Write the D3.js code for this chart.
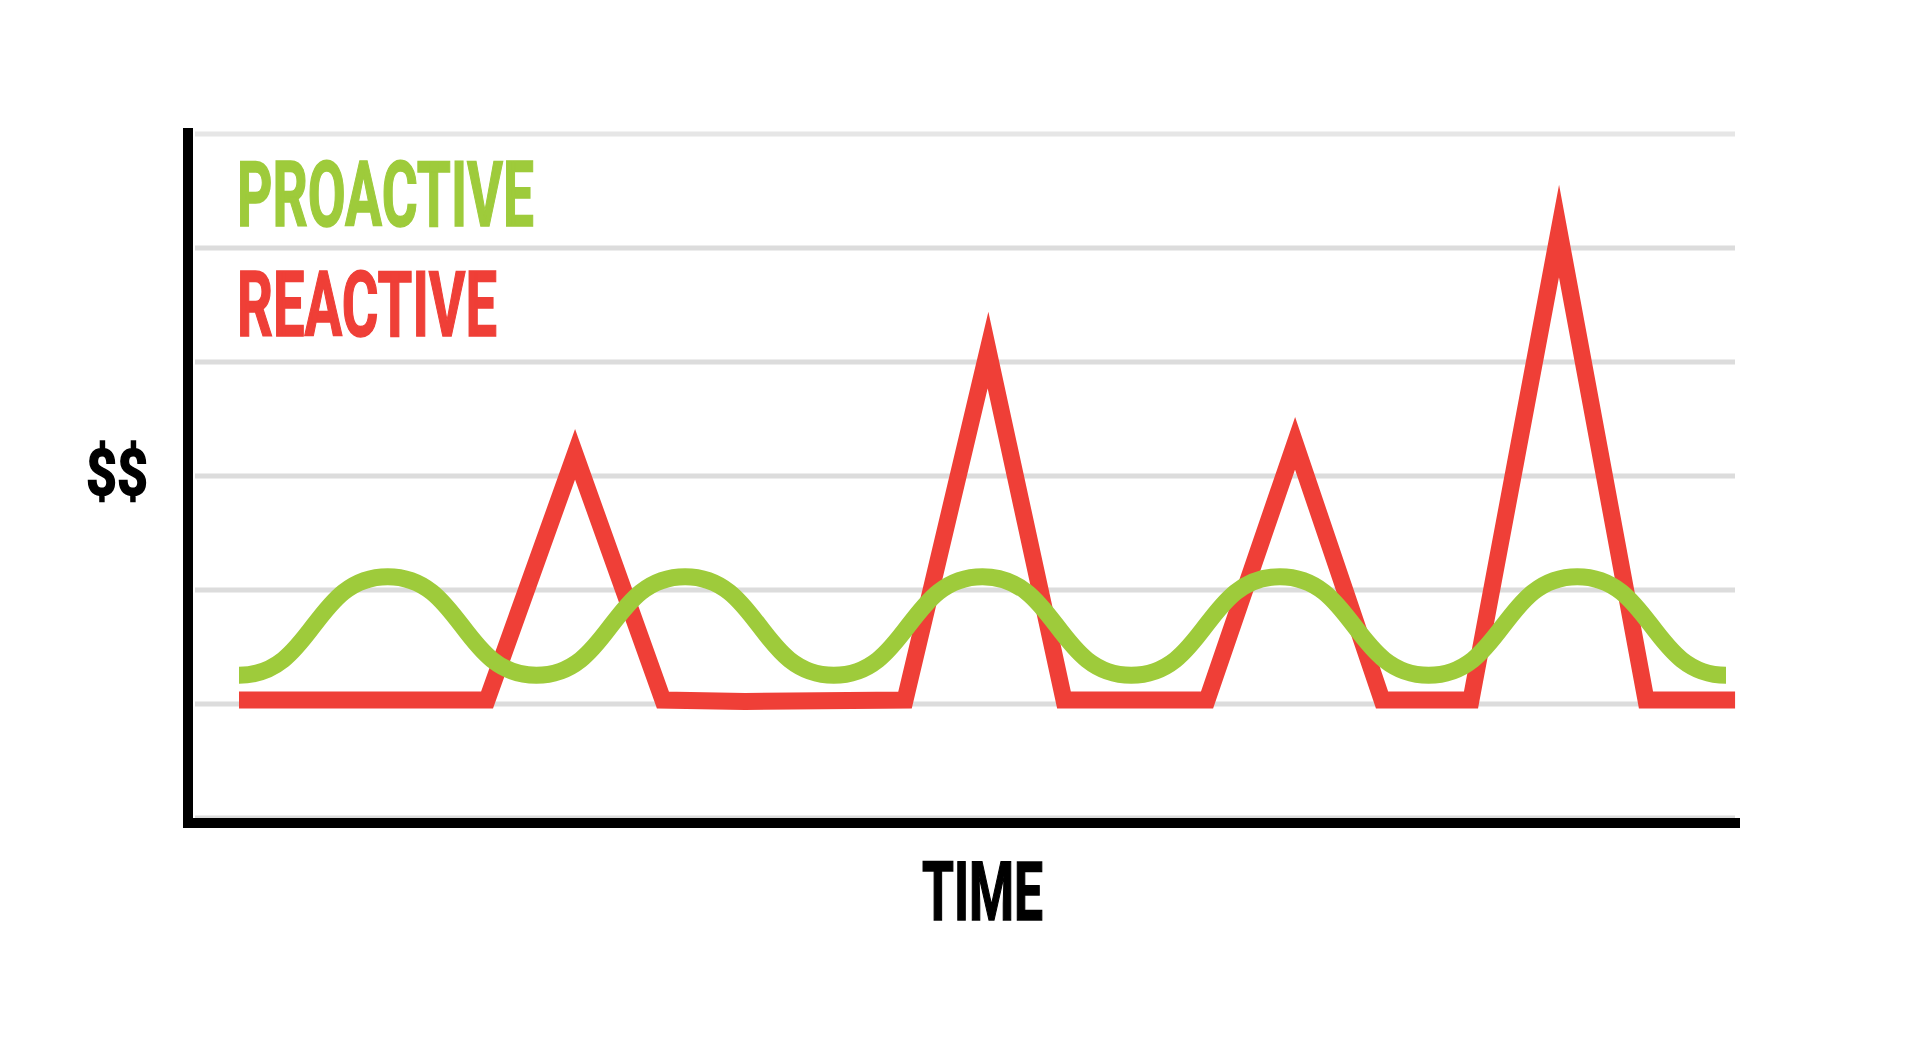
<!DOCTYPE html>
<html>
<head>
<meta charset="utf-8">
<script src="https://cdn.jsdelivr.net/npm/d3@7"></script>
<style>
  html, body { margin: 0; padding: 0; background: #fff; }
  svg { display: block; }
  text { font-family: Roboto, "Noto Sans", sans-serif; font-weight: 700; stroke-width: 1.6px; stroke-linejoin: miter; }
</style>
</head>
<body>
<svg id="chart" width="1920" height="1061"></svg>
<script>
// cost levels for the horizontal grid
const gridLevels = [0, 1, 2, 3, 4, 5, 6]

// reactive spending: flat, then spikes
const reactiveTime = [0, 16.68, 22.6, 28.51, 34.03, 44.79, 50.37, 55.48, 65.1, 71.02, 76.87, 82.85, 88.77, 94.62, 100.61]
const reactiveCost = [1.035, 1.035, 3.19, 1.035, 1.022, 1.035, 4.105, 1.035, 1.035, 3.287, 1.035, 1.035, 5.149, 1.035, 1.035]

// proactive spending: gentle regular waves
const proactiveTime = [0, 10, 20, 30, 40, 50, 60, 70, 80, 90, 100]
const proactiveCost = [1.252, 2.117, 1.252, 2.117, 1.252, 2.117, 1.252, 2.117, 1.252, 2.117, 1.252]

const legendLabels = ['PROACTIVE', 'REACTIVE']
const yLabel = '$$'
const xLabel = 'TIME'

const green = '#9ecb3b',
    red = '#ef3f37'

const svg = d3.select('#chart')

const x = d3.scaleLinear().domain([0, 100]).range([239, 1726])
const y = d3.scaleLinear().domain([0, 6]).range([818, 134])

// grid
svg.append('g')
    .selectAll('line')
    .data(gridLevels)
    .enter()
        .append('line')
        .attr('x1', 195)
        .attr('x2', 1735)
        .attr('y1', d => y(d))
        .attr('y2', d => y(d))
        .attr('stroke', d => d == 6 ? '#e6e6e6' : '#dcdcdc')
        .attr('stroke-width', 5)

// axes
svg.append('path')
    .attr('d', `M188,128 V${y(0) + 5} H1740`)
    .attr('fill', 'none')
    .attr('stroke', '#000')
    .attr('stroke-width', 10)
    .attr('stroke-linejoin', 'miter')

const line = d3.line()
    .x(d => x(d[0]))
    .y(d => y(d[1]))

// reactive
svg.append('path')
    .datum(d3.zip(reactiveTime, reactiveCost))
    .attr('d', line.curve(d3.curveLinear))
    .attr('fill', 'none')
    .attr('stroke', red)
    .attr('stroke-width', 17)
    .attr('stroke-linejoin', 'miter')
    .attr('stroke-miterlimit', 20)

// proactive
svg.append('path')
    .datum(d3.zip(proactiveTime, proactiveCost))
    .attr('d', line.curve(d3.curveBumpX))
    .attr('fill', 'none')
    .attr('stroke', green)
    .attr('stroke-width', 17)

// legend
const legend = [
    {label: legendLabels[0], color: green, y: 225.5, len: 297},
    {label: legendLabels[1], color: red, y: 335.5, len: 260}
]
svg.selectAll('text.legend')
    .data(legend)
    .enter()
        .append('text')
        .classed('legend', true)
        .attr('x', 237)
        .attr('y', d => d.y)
        .attr('fill', d => d.color)
        .attr('stroke', d => d.color)
        .style('font-size', '91px')
        .attr('textLength', d => d.len)
        .attr('lengthAdjust', 'spacingAndGlyphs')
        .text(d => d.label)

// axis titles
svg.append('text')
    .attr('x', 86)
    .attr('y', 494.5)
    .attr('stroke', '#000')
    .style('font-size', '64px')
    .attr('textLength', 62)
    .attr('lengthAdjust', 'spacingAndGlyphs')
    .text(yLabel)

svg.append('text')
    .attr('x', 922)
    .attr('y', 919.5)
    .attr('stroke', '#000')
    .style('font-size', '81px')
    .attr('textLength', 121)
    .attr('lengthAdjust', 'spacingAndGlyphs')
    .text(xLabel)
</script>
</body>
</html>
